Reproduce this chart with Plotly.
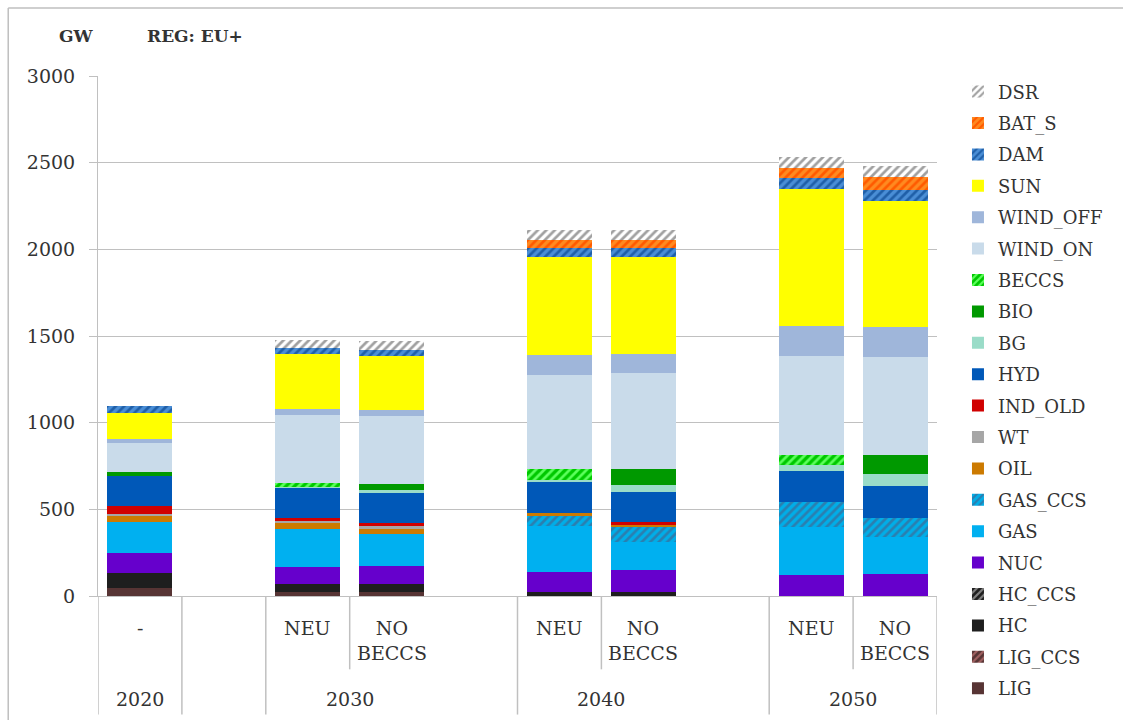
import plotly.graph_objects as go

# Installed capacity by technology, EU+ region (GW)
slots = ["2020 -", "gap 2030", "2030 NEU", "2030 NO BECCS", "gap 2040",
         "2040 NEU", "2040 NO BECCS", "gap 2050", "2050 NEU", "2050 NO BECCS"]
scenario_labels = ["-", "", "NEU", "NO<br>BECCS", "", "NEU", "NO<br>BECCS", "", "NEU", "NO<br>BECCS"]
years = ["2020", "2030", "2040", "2050"]
year_centers = [0, 2.5, 5.5, 8.5]

# values per bar: 2020, 2030 NEU, 2030 NO BECCS, 2040 NEU, 2040 NO BECCS, 2050 NEU, 2050 NO BECCS
LIG = [44, 25, 25, 0, 0, 0, 0]
LIG_CCS = [0, 0, 0, 0, 0, 0, 0]
HC = [87, 42, 42, 21, 21, 0, 0]
HC_CCS = [0, 0, 0, 0, 0, 0, 0]
NUC = [115, 102, 106, 119, 129, 121, 127]
GAS = [181, 219, 185, 263, 163, 275, 212]
GAS_CCS = [0, 0, 0, 58, 87, 144, 111]
OIL = [35, 31, 31, 15, 15, 0, 0]
WT = [13, 13, 12, 0, 0, 0, 0]
IND_OLD = [44, 19, 23, 0, 10, 0, 0]
HYD = [173, 173, 173, 181, 177, 181, 186]
BG = [0, 5, 12, 15, 38, 35, 67]
BIO = [21, 0, 37, 0, 90, 0, 108]
BECCS = [0, 23, 0, 58, 0, 56, 0]
WIND_ON = [171, 394, 390, 544, 558, 575, 565]
WIND_OFF = [21, 33, 35, 115, 108, 173, 177]
SUN = [148, 319, 312, 567, 558, 786, 727]
DAM = [42, 33, 35, 54, 56, 63, 62]
BAT_S = [0, 0, 0, 42, 44, 63, 77]
DSR = [0, 48, 52, 58, 58, 58, 62]

# (name, values, colour, hatch colour or None), bottom of the stack first
series = [
    ("LIG", LIG, "#573434", None),
    ("LIG_CCS", LIG_CCS, "#573434", "#a06060"),
    ("HC", HC, "#1e1e1e", None),
    ("HC_CCS", HC_CCS, "#1e1e1e", "#808080"),
    ("NUC", NUC, "#6600cc", None),
    ("GAS", GAS, "#00b0f0", None),
    ("GAS_CCS", GAS_CCS, "#00aee8", "#2a7fb0"),
    ("OIL", OIL, "#cc7a00", None),
    ("WT", WT, "#a6a6a6", None),
    ("IND_OLD", IND_OLD, "#d00000", None),
    ("HYD", HYD, "#0058b8", None),
    ("BG", BG, "#9adcc8", None),
    ("BIO", BIO, "#009900", None),
    ("BECCS", BECCS, "#00c800", "#5cff5c"),
    ("WIND_ON", WIND_ON, "#c9dbea", None),
    ("WIND_OFF", WIND_OFF, "#9fb6da", None),
    ("SUN", SUN, "#ffff00", None),
    ("DAM", DAM, "#4a8ed6", "#1f5fa8"),
    ("BAT_S", BAT_S, "#ff8a20", "#ff5a00"),
    ("DSR", DSR, "#ffffff", "#a0a0a0"),
]

bar_slots = [0, 2, 3, 5, 6, 8, 9]


def spread(vals):
    out = [None] * len(slots)
    for i, v in zip(bar_slots, vals):
        out[i] = v
    return out


FONT = "DejaVu Serif"
GRID = "#c0c0c0"

fig = go.Figure()
n = len(series)
for k, (name, vals, col, hatch) in enumerate(series):
    marker = dict(color=col, line=dict(width=0))
    if hatch:
        marker["pattern"] = dict(shape="/", bgcolor=col, fgcolor=hatch,
                                 size=6, solidity=0.45, fillmode="replace")
    # top of the stack listed first in the legend
    fig.add_trace(go.Bar(x=slots, y=spread(vals), name=name, marker=marker,
                         legendgroup=name, legendrank=n - k))

fig.update_layout(
    width=1123, height=720,
    barmode="stack", bargap=0.225,
    plot_bgcolor="white", paper_bgcolor="white",
    margin=dict(l=98, r=186, t=76, b=124),
    font=dict(family=FONT, size=19, color="#333333"),
    showlegend=True,
    legend=dict(traceorder="grouped", tracegroupgap=5, maxheight=700,
                x=1.025, xanchor="left", y=1.005, yanchor="top",
                font=dict(family=FONT, size=18, color="#333333"),
                bgcolor="rgba(0,0,0,0)"),
)

fig.update_yaxes(range=[0, 3000], dtick=500, showgrid=True, gridcolor=GRID, gridwidth=1,
                 showline=True, linecolor=GRID, linewidth=1,
                 ticks="outside", ticklen=8, tickcolor=GRID,
                 tickfont=dict(family=FONT, size=19, color="#333333"),
                 ticklabelstandoff=10, zeroline=False)
fig.update_xaxes(showticklabels=False, ticks="", showline=True, linecolor=GRID, linewidth=1,
                 range=[-0.5, 9.5], showgrid=False)

# category dividers below the axis
full_div = [-0.5, 0.5, 1.5, 4.5, 7.5, 9.5]
short_div = [2.5, 5.5, 8.5]
for xv in full_div:
    fig.add_shape(type="line", xref="x", yref="paper", x0=xv, x1=xv, y0=0, y1=-0.228,
                  line=dict(color=GRID, width=1.5))
for xv in short_div:
    fig.add_shape(type="line", xref="x", yref="paper", x0=xv, x1=xv, y0=0, y1=-0.141,
                  line=dict(color=GRID, width=1.5))

for i, lab in enumerate(scenario_labels):
    if lab:
        fig.add_annotation(x=i, y=-0.036, xref="x", yref="paper", text=lab, showarrow=False,
                           xanchor="center", yanchor="top",
                           font=dict(family=FONT, size=19, color="#333333"))
for xv, yr in zip(year_centers, years):
    fig.add_annotation(x=xv, y=-0.198, xref="x", yref="paper", text=yr, showarrow=False,
                       xanchor="center", yanchor="middle",
                       font=dict(family=FONT, size=19, color="#333333"))

# unit and region titles
fig.add_annotation(x=-0.026, y=1.077, xref="paper", yref="paper", text="<b>GW</b>",
                   showarrow=False, xanchor="center", yanchor="middle",
                   font=dict(family=FONT, size=17, color="#333333"))
fig.add_annotation(x=0.056, y=1.077, xref="paper", yref="paper", text="<b>REG: EU+</b>",
                   showarrow=False, xanchor="left", yanchor="middle",
                   font=dict(family=FONT, size=17, color="#333333"))

# chart frame, left and top edges
fig.add_shape(type="line", xref="paper", yref="paper", x0=-0.107, x1=-0.107, y0=-0.3, y1=1.131,
              line=dict(color="#bfbfbf", width=1.5))
fig.add_shape(type="line", xref="paper", yref="paper", x0=-0.107, x1=1.3, y0=1.131, y1=1.131,
              line=dict(color="#bfbfbf", width=1.5))

fig.write_html("out.html")
